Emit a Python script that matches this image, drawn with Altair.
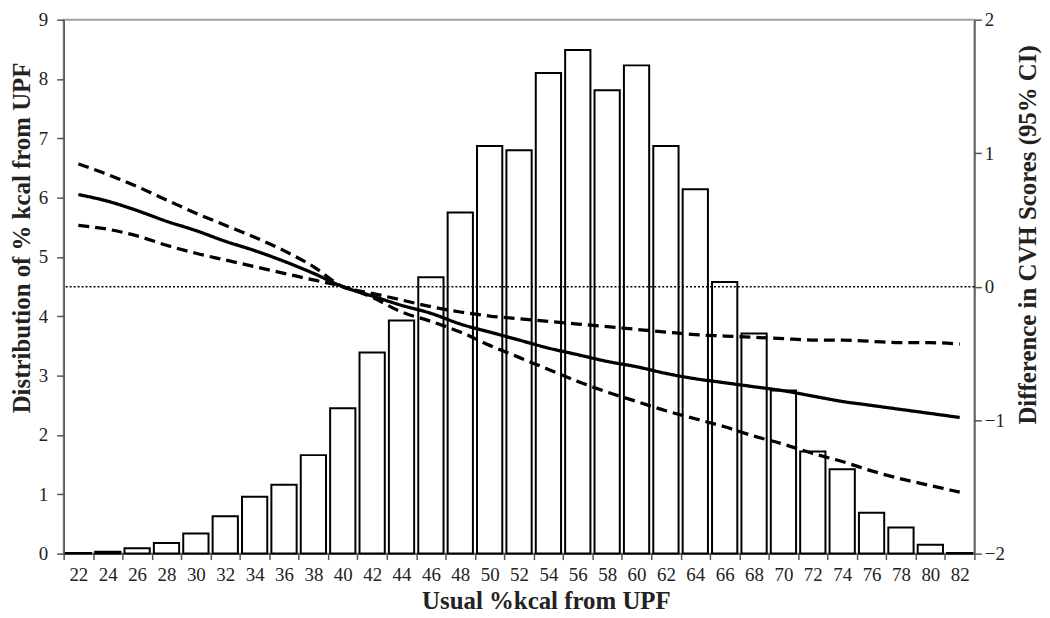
import altair as alt
import pandas as pd

# Categories (usual %kcal from UPF)
kcal = [22, 24, 26, 28, 30, 32, 34, 36, 38, 40, 42, 44, 46, 48, 50, 52,
        54, 56, 58, 60, 62, 64, 66, 68, 70, 72, 74, 76, 78, 80, 82]

# Distribution of % kcal from UPF (left axis, bars)
dist_pct = [0.01, 0.03, 0.09, 0.18, 0.34, 0.63, 0.96, 1.16, 1.66, 2.45, 3.39,
            3.93, 4.66, 5.75, 6.87, 6.80, 8.10, 8.49, 7.81, 8.23, 6.87, 6.14,
            4.58, 3.71, 2.75, 1.72, 1.42, 0.69, 0.44, 0.15, 0.01]

# Difference in CVH scores (right axis)
estimate = [0.69, 0.64, 0.57, 0.49, 0.42, 0.34, 0.27, 0.19, 0.10, 0.00, -0.07,
            -0.14, -0.20, -0.28, -0.34, -0.40, -0.46, -0.51, -0.56, -0.60, -0.65,
            -0.69, -0.72, -0.75, -0.78, -0.82, -0.86, -0.89, -0.92, -0.95, -0.98]
upper_ci = [0.92, 0.84, 0.75, 0.65, 0.55, 0.46, 0.37, 0.27, 0.15, 0.00, -0.05,
            -0.10, -0.15, -0.19, -0.22, -0.24, -0.26, -0.28, -0.30, -0.32, -0.34,
            -0.36, -0.37, -0.38, -0.39, -0.40, -0.40, -0.41, -0.42, -0.42, -0.43]
lower_ci = [0.46, 0.43, 0.38, 0.31, 0.25, 0.20, 0.15, 0.10, 0.05, 0.00, -0.08,
            -0.19, -0.26, -0.34, -0.44, -0.53, -0.62, -0.71, -0.79, -0.86, -0.93,
            -0.99, -1.05, -1.12, -1.18, -1.25, -1.31, -1.38, -1.44, -1.49, -1.54]

left_ticks = [0, 1, 2, 3, 4, 5, 6, 7, 8, 9]
right_ticks = [-2, -1, 0, 1, 2]
zero_line = [0]

bars_df = pd.DataFrame({"kcal": kcal, "pct": dist_pct})
lines_df = pd.concat([
    pd.DataFrame({"kcal": kcal, "diff": estimate, "series": "estimate"}),
    pd.DataFrame({"kcal": kcal, "diff": upper_ci, "series": "upper"}),
    pd.DataFrame({"kcal": kcal, "diff": lower_ci, "series": "lower"}),
])
zero_df = pd.DataFrame({"z": zero_line})

FONT = "Liberation Serif"
AXC = "#555555"
TXT = "#222222"

x_scale = alt.Scale(paddingInner=0, paddingOuter=0)
x_axis = alt.Axis(title="Usual %kcal from UPF", labelAngle=0, tickBand="extent",
                  tickSize=6, labelPadding=6, titleX=485, titleY=55,
                  titleAlign="center", titleBaseline="alphabetic")

x_enc = alt.X("kcal:O", sort=kcal, scale=x_scale, axis=x_axis)

bars = alt.Chart(bars_df).mark_bar(
    fill="white", stroke="black", strokeWidth=2,
    width=alt.RelativeBandSize(0.86),
).encode(
    x=x_enc,
    y=alt.Y("pct:Q", scale=alt.Scale(domain=[0, 9], nice=False),
            axis=alt.Axis(title="Distribution of % kcal from UPF", values=left_ticks,
                          tickSize=7, labelPadding=9,
                          titleX=-42, titleY=219, titleAngle=270,
                          titleAlign="center", titleBaseline="middle")),
)

lines = alt.Chart(lines_df).mark_line(
    color="black", strokeWidth=3.3, interpolate="monotone"
).encode(
    x=x_enc,
    y=alt.Y("diff:Q", scale=alt.Scale(domain=[-2, 2], nice=False),
            axis=alt.Axis(orient="right", title="Difference in CVH Scores (95% CI)",
                          values=right_ticks, tickSize=7, labelPadding=3,
                          titleX=53, titleY=216, titleAngle=270,
                          titleAlign="center", titleBaseline="middle")),
    detail="series:N",
    strokeDash=alt.StrokeDash("series:N",
                              scale=alt.Scale(domain=["estimate", "upper", "lower"],
                                              range=[[1, 0], [11, 6], [11, 6]]),
                              legend=None),
)

rule = alt.Chart(zero_df).mark_rule(
    color="black", strokeWidth=1.5, strokeDash=[2, 2]
).encode(
    y=alt.Y("z:Q", scale=alt.Scale(domain=[-2, 2], nice=False), axis=None),
)

chart = alt.layer(bars, lines, rule).resolve_scale(y="independent").properties(
    width=916, height=537,
    autosize=alt.AutoSizeParams(type="none"),
    padding={"left": 56, "top": 10, "right": 68, "bottom": 60},
).configure_axis(
    labelFont=FONT, labelFontSize=19, labelColor=TXT,
    titleFont=FONT, titleFontSize=25, titleFontWeight="bold", titleColor=TXT,
    domainColor=AXC, tickColor=AXC, domainWidth=1.5, tickWidth=1.5, grid=False,
).configure_view(stroke="#a0a0a0", strokeWidth=2)

chart.save("out.html", embed_options={"renderer": "svg", "actions": False})
